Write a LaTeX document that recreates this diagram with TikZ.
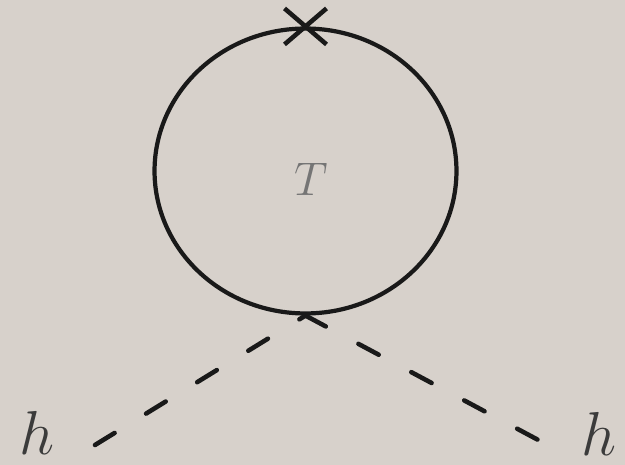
\documentclass[tikz,border=0pt]{standalone}
\usepackage{amsmath,amssymb}
\usepackage{xcolor}
\usepackage{tikz}
\usetikzlibrary{shapes.geometric,positioning,calc}

\definecolor{paper}{RGB}{215,209,203}
\definecolor{ink}{RGB}{25,25,25}

\tikzset{
  fermion/.style={draw=ink, line width=2.4pt},
  higgs/.style={draw=ink, line width=2.6pt, dash pattern=on 0.46cm off 0.74cm, line cap=round},
  lbl/.style={text=ink!85, font=\fontsize{24.88}{28}\selectfont, scale=1.42, inner sep=0pt},
}

\begin{document}
\begin{tikzpicture}[x=0.02cm, y=-0.02cm]
		\fill[paper] (0,0) rectangle (625,465);
		\useasboundingbox (0,0) rectangle (625,465);

		% tadpole loop
		\node[fermion, ellipse, minimum width=6.04cm, minimum height=5.70cm, inner sep=0pt] (loop) at (305.5,171) {};
		\node[text=ink!60, font=\fontsize{24.88}{28}\selectfont, scale=1.08] (temp) at (311,179) {$T$};

		% mass insertion
		\draw[ink, line width=2.6pt] ($(loop.north)+(-21,-18)$) -- ($(loop.north)+(21,18)$);
		\draw[ink, line width=2.6pt] ($(loop.north)+(-21,18)$) -- ($(loop.north)+(21,-18)$);

		% external legs
		\coordinate (endL) at (95,445);
		\coordinate (endR) at (542,442);
		\node[lbl] (hL) at (37,433) {$h$};
		\node[lbl] (hR) at (599,434) {$h$};
		\draw[higgs] (endL) -- (loop.south);
		\draw[higgs] (loop.south) -- (endR);
	\end{tikzpicture}
\end{document}
